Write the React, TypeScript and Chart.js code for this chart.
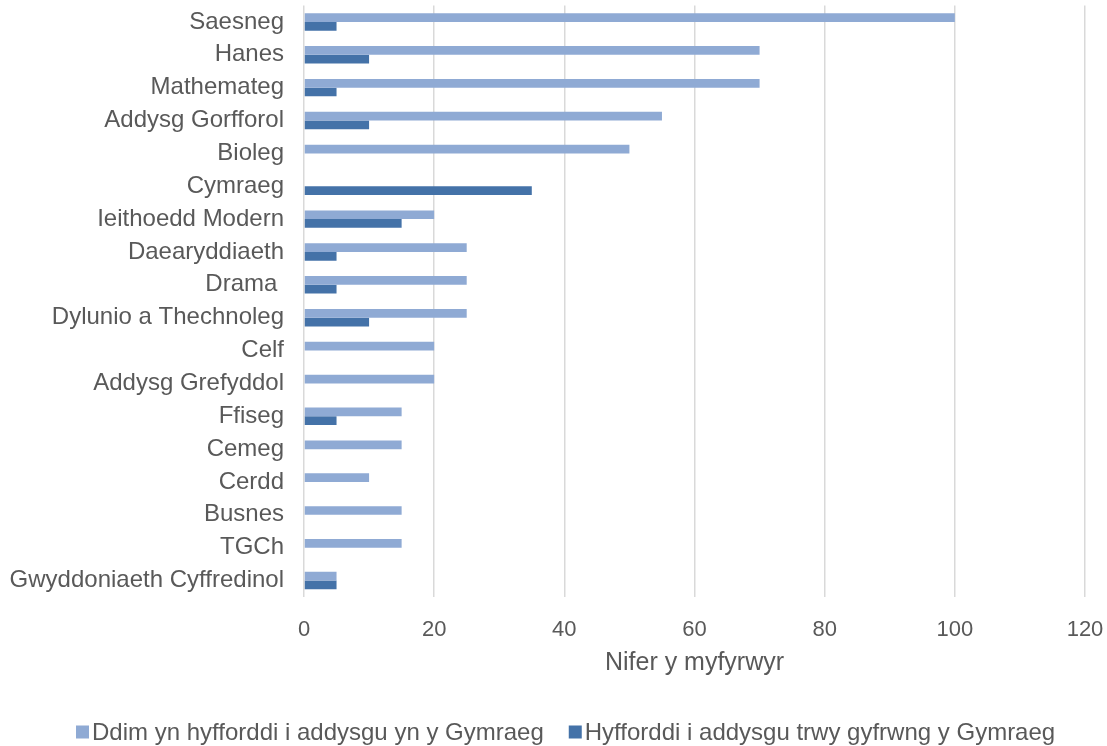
import React, { useEffect, useRef } from "react";
import { Chart, registerables } from "chart.js";

Chart.register(...registerables);

const categories = [
  "Saesneg",
  "Hanes",
  "Mathemateg",
  "Addysg Gorfforol",
  "Bioleg",
  "Cymraeg",
  "Ieithoedd Modern",
  "Daearyddiaeth",
  "Drama ",
  "Dylunio a Thechnoleg",
  "Celf",
  "Addysg Grefyddol",
  "Ffiseg",
  "Cemeg",
  "Cerdd",
  "Busnes",
  "TGCh",
  "Gwyddoniaeth Cyffredinol",
];

const notTrainingWelsh = [100, 70, 70, 55, 50, 0, 20, 25, 25, 25, 20, 20, 15, 15, 10, 15, 15, 5];
const trainingWelsh = [5, 10, 5, 10, 0, 35, 15, 5, 5, 10, 0, 0, 5, 0, 0, 0, 0, 5];

const seriesLabels = [
  "Ddim yn hyfforddi i addysgu yn y Gymraeg",
  "Hyfforddi i addysgu trwy gyfrwng y Gymraeg",
];
const seriesColors = ["#8FAAD4", "#4472A8"];

const axisTitle = "Nifer y myfyrwyr";

const FONT = "'Liberation Sans', Arial, sans-serif";
const TEXT = "#595959";
const W = 1107;
const H = 746;
const PLOT_LEFT = 304;
const PLOT_BOTTOM = 597;

const bottomLegend = {
  id: "bottomLegend",
  afterDraw(chart: any) {
    const ctx = chart.ctx;
    ctx.save();
    ctx.font = `24px ${FONT}`;
    ctx.textBaseline = "middle";
    ctx.textAlign = "left";
    const cy = 732;
    let x = 76;
    chart.data.datasets.forEach((ds: any) => {
      ctx.fillStyle = ds.backgroundColor;
      ctx.fillRect(x, cy - 6.5, 13, 13);
      x += 16;
      ctx.fillStyle = TEXT;
      ctx.fillText(ds.label, x, cy + 1);
      x += ctx.measureText(ds.label).width + 25;
    });
    ctx.restore();
  },
};

export default function App() {
  const ref = useRef<HTMLCanvasElement | null>(null);

  useEffect(() => {
    document.body.style.margin = "0";
    const canvas = ref.current;
    if (!canvas) return;
    const chart = new Chart(canvas, {
      type: "bar",
      data: {
        labels: categories,
        datasets: [
          {
            label: seriesLabels[0],
            data: notTrainingWelsh,
            backgroundColor: seriesColors[0],
            categoryPercentage: 0.53,
            barPercentage: 1,
          },
          {
            label: seriesLabels[1],
            data: trainingWelsh,
            backgroundColor: seriesColors[1],
            categoryPercentage: 0.53,
            barPercentage: 1,
          },
        ],
      },
      options: {
        indexAxis: "y",
        responsive: false,
        animation: false,
        maintainAspectRatio: false,
        layout: { padding: { top: 5.5, right: 22, left: 0, bottom: 0 } },
        scales: {
          x: {
            min: 0,
            max: 120,
            ticks: {
              stepSize: 20,
              color: TEXT,
              font: { family: FONT, size: 22 },
              padding: 20,
            },
            grid: { color: "#D9D9D9", lineWidth: 1.5, drawTicks: false },
            border: { display: false },
            title: {
              display: true,
              text: axisTitle,
              color: TEXT,
              font: { family: FONT, size: 25 },
              padding: { top: 0, bottom: 68 },
            },
            afterFit: (s: any) => {
              s.height = H - PLOT_BOTTOM;
              s.paddingLeft = 0;
              s.paddingRight = 0;
            },
          },
          y: {
            ticks: {
              color: TEXT,
              font: { family: FONT, size: 24 },
              padding: 20,
              autoSkip: false,
            },
            grid: { display: false, drawTicks: false },
            border: { display: false },
            afterFit: (s: any) => {
              s.width = PLOT_LEFT;
              s.paddingTop = 0;
              s.paddingBottom = 0;
            },
          },
        },
        plugins: {
          legend: { display: false },
          tooltip: { enabled: false },
        },
      },
      plugins: [bottomLegend],
    });
    return () => chart.destroy();
  }, []);

  return (
    <div style={{ position: "absolute", left: 0, top: 0, width: W, height: H, background: "#fff" }}>
      <canvas ref={ref} width={W} height={H} style={{ width: W, height: H, display: "block" }} />
    </div>
  );
}
